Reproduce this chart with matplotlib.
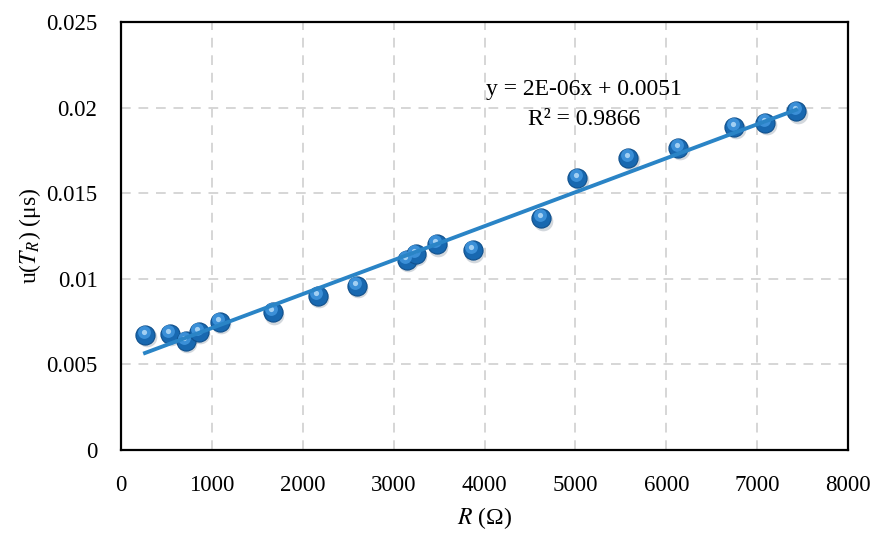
import matplotlib
matplotlib.use("Agg")
import matplotlib.pyplot as plt
import matplotlib.transforms as mtransforms
import numpy as np

# Dados
resistencia = [264, 538, 714, 857, 1088, 1670, 2165, 2593, 3143, 3242,
               3473, 3868, 4626, 5022, 5582, 6132, 6747, 7088, 7429]
incerteza = [0.00672, 0.00678, 0.00637, 0.0069, 0.00748, 0.00806, 0.0090,
             0.00958, 0.0111, 0.01145, 0.01203, 0.01168, 0.01355, 0.01589,
             0.01706, 0.01764, 0.01887, 0.0191, 0.0198]
xticks = [0, 1000, 2000, 3000, 4000, 5000, 6000, 7000, 8000]
yticks = [0, 0.005, 0.01, 0.015, 0.02, 0.025]
ytick_labels = ["0", "0.005", "0.01", "0.015", "0.02", "0.025"]

plt.rcParams['font.family'] = ['Liberation Serif', 'DejaVu Serif']
plt.rcParams['mathtext.fontset'] = 'stix'

fig = plt.figure(figsize=(8.72, 5.36), dpi=100)
ax = fig.add_axes([0.1388, 0.1604, 0.8337, 0.7986])

x = np.array(resistencia)
y = np.array(incerteza)

# Linha de tendência linear (por cima dos pontos, como no Excel)
coef = np.polyfit(x, y, 1)
xs = np.array([x.min(), x.max()])
ax.plot(xs, np.polyval(coef, xs), color='#2a84c6', lw=2.8, zorder=8)

# Marcadores "esféricos": sombra, corpo e brilho
sombra = mtransforms.offset_copy(ax.transData, fig=fig, x=1.5, y=-2.5, units='dots')
brilho = mtransforms.offset_copy(ax.transData, fig=fig, x=-1.5, y=3, units='dots')
ax.scatter(x, y, s=200, color='#6f7f8f', alpha=0.3, linewidths=0,
           transform=sombra, zorder=4)
ax.scatter(x, y, s=190, color='#1868b0', edgecolors='#10508c', linewidths=0.8, zorder=5)
ax.scatter(x, y, s=85, color='#3f94dc', linewidths=0, alpha=0.9,
           transform=brilho, zorder=6)
ax.scatter(x, y, s=14, color='#b5dbf8', linewidths=0, alpha=0.85,
           transform=brilho, zorder=7)

ax.set_xlim(0, 8000)
ax.set_ylim(0, 0.025)
ax.set_xticks(xticks)
ax.set_yticks(yticks)
ax.set_yticklabels(ytick_labels)
ax.tick_params(axis='both', length=0, labelsize=16.5)
ax.tick_params(axis='y', pad=17)
ax.tick_params(axis='x', pad=18)

ax.grid(True, color='#d6d6d6', linestyle=(0, (5, 4)), lw=1.4)
ax.set_axisbelow(True)
for sp in ax.spines.values():
    sp.set_linewidth(1.6)
    sp.set_color('black')

ax.set_xlabel('$R$ (Ω)', fontsize=17)
ax.set_ylabel('u($T_R$) (μs)', fontsize=17)
ax.xaxis.set_label_coords(0.5, -0.128)
ax.yaxis.set_label_coords(-0.108, 0.5)

ax.text(0.637, 0.843, 'y = 2E-06x + 0.0051', transform=ax.transAxes,
        ha='center', va='center', fontsize=17)
ax.text(0.637, 0.772, 'R² = 0.9866', transform=ax.transAxes,
        ha='center', va='center', fontsize=17)

fig.savefig('out.png', dpi=100)
